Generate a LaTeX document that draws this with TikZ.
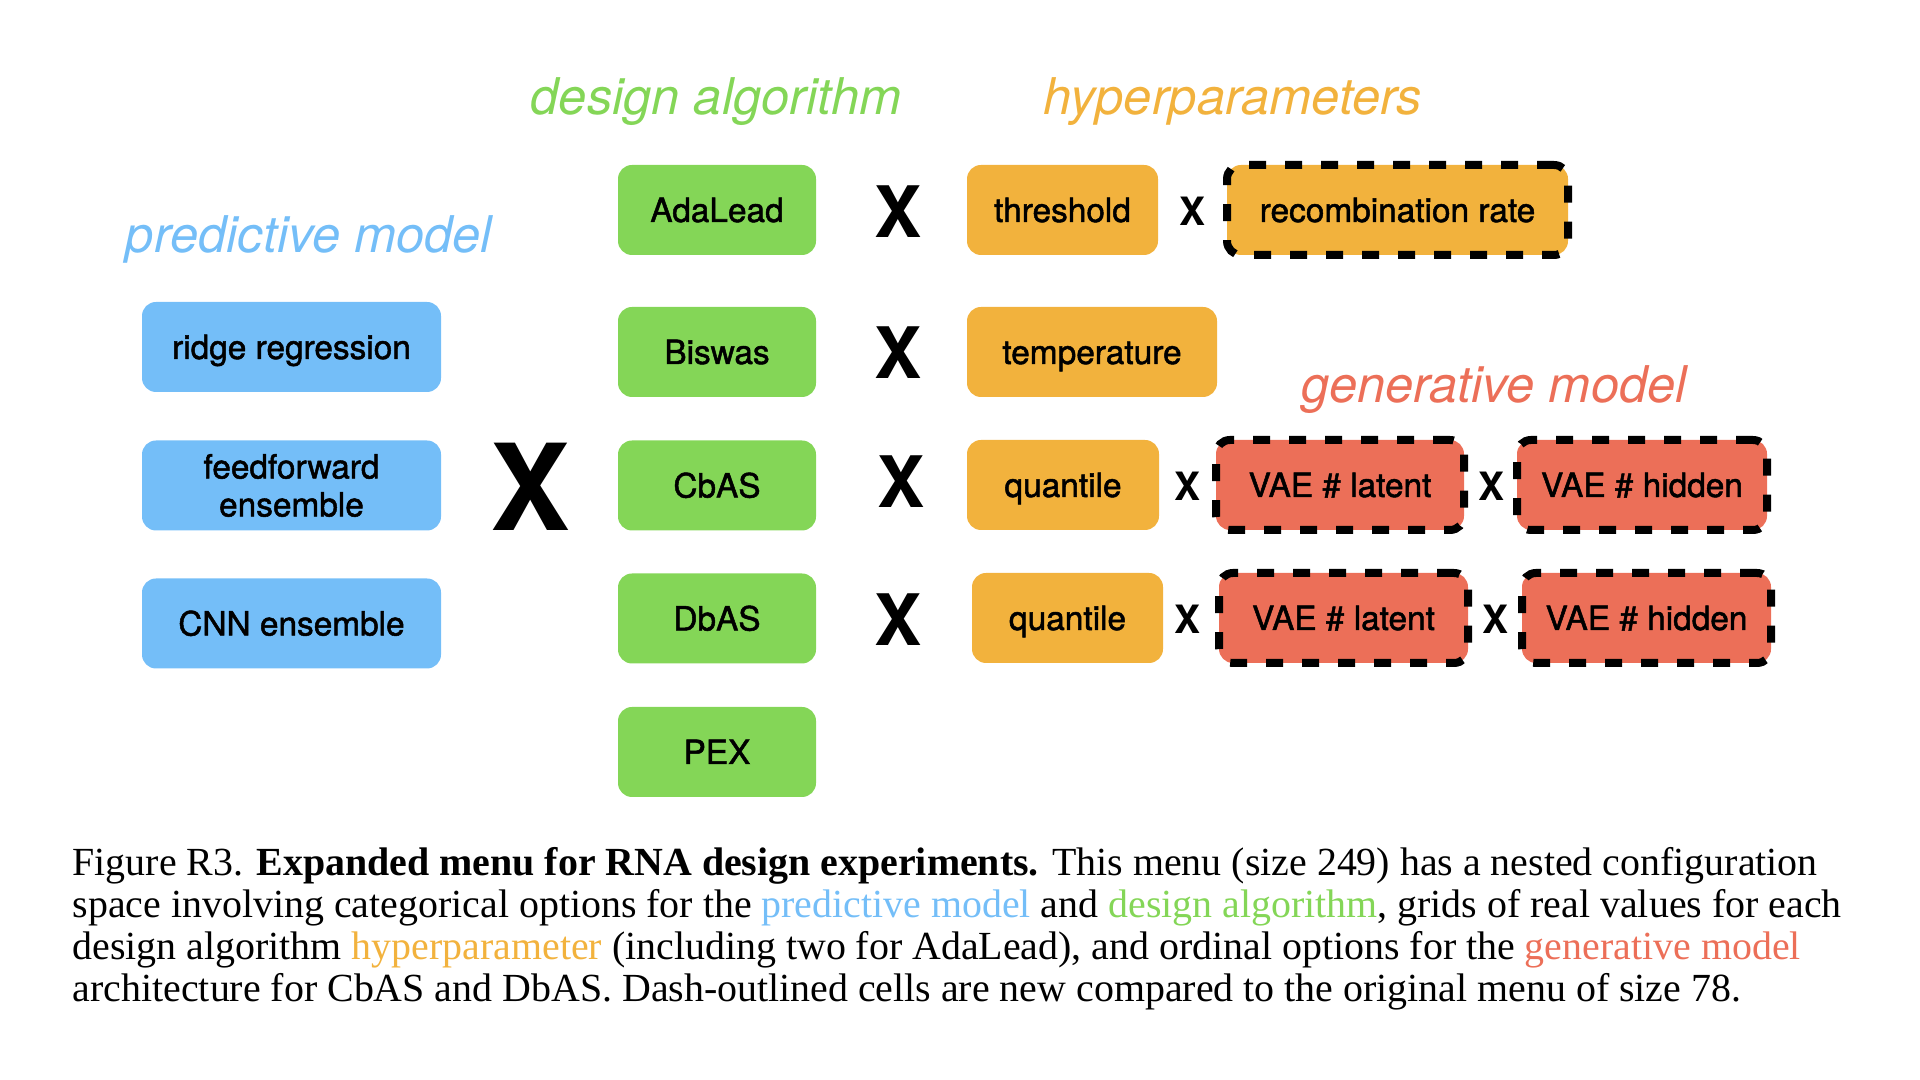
\documentclass[tikz,border=0pt]{standalone}
\usepackage{fontspec}
\setmainfont{Liberation Serif}
\newfontfamily\cellfont{TeX Gyre Heros}[FakeBold=1.5]
\newfontfamily\headfont{TeX Gyre Heros}
\usepackage{tikz}
\definecolor{predblue}{RGB}{116,190,248}
\definecolor{alggreen}{RGB}{132,214,87}
\definecolor{hyperorange}{RGB}{242,178,61}
\definecolor{genred}{RGB}{236,111,88}
\tikzset{
  cell/.style={rounded corners=0.14cm, minimum height=0.9cm, inner sep=0pt, align=center,
    text height=0.24cm, text depth=0pt, font=\cellfont\fontsize{9.5}{10.8}\selectfont},
  predcell/.style={cell, fill=predblue, minimum width=2.99cm},
  algcell/.style={cell, fill=alggreen, minimum width=1.98cm},
  hypercell/.style={cell, fill=hyperorange},
  gencell/.style={cell, fill=genred},
  newcell/.style={draw=black, line width=0.08cm, dash pattern=on 0.17cm off 0.19cm},
  head/.style={anchor=base, inner sep=0pt, font=\headfont\itshape\fontsize{14.4}{17}\selectfont},
  bigtimes/.style={inner sep=0pt, font=\headfont\bfseries\fontsize{34.1}{36}\selectfont},
  midtimes/.style={inner sep=0pt, font=\headfont\bfseries\fontsize{20.2}{22}\selectfont},
  smalltimes/.style={inner sep=0pt, font=\headfont\bfseries\fontsize{11.1}{12}\selectfont}
}

\begin{document}
\begin{tikzpicture}
  \useasboundingbox (0,0) rectangle (19.2,10.8);

  \node[head, text=predblue] (tpred) at (3.09,8.27) {predictive model};
  \node[head, text=alggreen] (talg) at (7.16,9.65) {design algorithm};
  \node[head, text=hyperorange] (thyper) at (12.33,9.65) {hyperparameters};
  \node[head, text=genred] (tgen) at (14.94,6.77) {generative model};

  \node[predcell] (ridge) at (2.915,7.33) {ridge regression};
  \node[predcell, text height=, text depth=] (ffwd) at (2.915,5.945) {feedforward\\ensemble};
  \node[predcell] (cnn) at (2.915,4.565) {CNN ensemble};
  \node[bigtimes] (xpred) at (5.30,5.93) {X};

  \node[algcell] (adalead) at (7.17,8.70) {AdaLead};
  \node[algcell] (biswas) at (7.17,7.28) {Biswas};
  \node[algcell] (cbas) at (7.17,5.945) {CbAS};
  \node[algcell] (dbas) at (7.17,4.615) {DbAS};
  \node[algcell] (pex) at (7.17,3.28) {PEX};

  \node[midtimes] (xada) at (8.985,8.685) {X};
  \node[midtimes] (xbis) at (8.985,7.275) {X};
  \node[midtimes] (xcb) at (9.01,5.98) {X};
  \node[midtimes] (xdb) at (8.985,4.60) {X};

  \node[hypercell, minimum width=1.91cm] (thresh) at (10.625,8.70) {threshold};
  \node[smalltimes] (xthr) at (11.925,8.69) {X};
  \node[hypercell, newcell, minimum width=3.41cm] (recomb) at (13.975,8.70) {recombination rate};

  \node[hypercell, minimum width=2.50cm] (temp) at (10.92,7.28) {temperature};

  \node[hypercell, minimum width=1.92cm] (qcb) at (10.63,5.95) {quantile};
  \node[smalltimes] (xqcb) at (11.87,5.94) {X};
  \node[gencell, newcell, minimum width=2.48cm] (latcb) at (13.40,5.95) {VAE \# latent};
  \node[smalltimes] (xlatcb) at (14.91,5.94) {X};
  \node[gencell, newcell, minimum width=2.50cm] (hidcb) at (16.42,5.95) {VAE \# hidden};

  \node[hypercell, minimum width=1.91cm] (qdb) at (10.675,4.62) {quantile};
  \node[smalltimes] (xqdb) at (11.87,4.61) {X};
  \node[gencell, newcell, minimum width=2.49cm] (latdb) at (13.435,4.62) {VAE \# latent};
  \node[smalltimes] (xlatdb) at (14.95,4.61) {X};
  \node[gencell, newcell, minimum width=2.49cm] (hiddb) at (16.465,4.62) {VAE \# hidden};

  \node[anchor=north west, inner sep=0pt, align=left, font=\fontsize{11.35}{11.9}\selectfont] (caption) at (0.72,2.33)
    {Figure R3. \textbf{Expanded menu for RNA design experiments.} This menu (size 249) has a nested configuration\\
     space involving categorical options for the \textcolor{predblue}{predictive model} and \textcolor{alggreen}{design algorithm}, grids of real values for each\\
     design algorithm \textcolor{hyperorange}{hyperparameter} (including two for AdaLead), and ordinal options for the \textcolor{genred}{generative model}\\
     architecture for CbAS and DbAS. Dash-outlined cells are new compared to the original menu of size 78.};
\end{tikzpicture}
\end{document}
